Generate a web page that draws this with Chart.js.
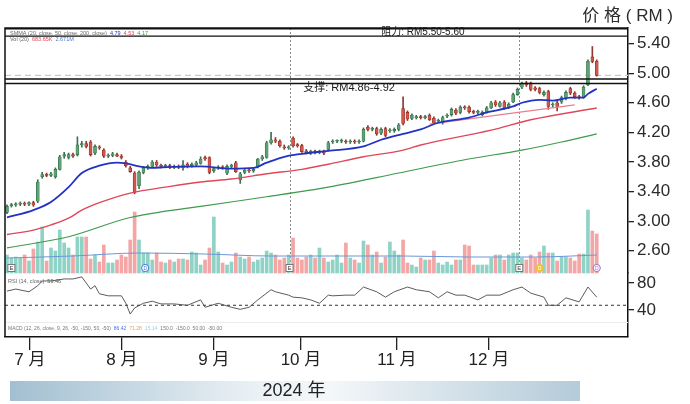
<!DOCTYPE html>
<html><head><meta charset="utf-8">
<script src="https://cdn.jsdelivr.net/npm/chart.js@4.4.1/dist/chart.umd.min.js"></script>
<style>html,body{margin:0;padding:0;background:#fff;}canvas{display:block;}</style>
</head><body>
<canvas id="c" width="690" height="404"></canvas>
<script>
// ---------- DATA ----------
const opens = [
3.12,3.21,3.22,3.23,3.24,3.23,3.25,3.27,3.60,3.63,
3.62,3.60,3.70,3.88,3.86,3.90,3.90,4.03,4.05,4.07,
3.92,4.00,3.96,3.88,3.89,3.90,3.88,3.80,3.72,3.65,
3.48,3.66,3.72,3.74,3.80,3.75,3.74,3.75,3.73,3.74,
3.72,3.77,3.75,3.76,3.78,3.86,3.86,3.68,3.72,3.73,
3.65,3.74,3.79,3.56,3.66,3.69,3.68,3.74,3.84,3.86,
4.06,4.10,4.08,4.00,3.99,4.12,4.03,4.02,3.95,3.93,
3.94,3.93,3.94,3.97,4.07,4.08,4.08,4.08,4.07,4.08,
4.07,4.08,4.27,4.24,4.25,4.19,4.25,4.22,4.22,4.24,
4.52,4.47,4.39,4.40,4.41,4.40,4.43,4.39,4.35,4.33,
4.42,4.44,4.50,4.47,4.54,4.54,4.48,4.47,4.44,4.47,
4.53,4.61,4.55,4.61,4.54,4.61,4.71,4.81,4.87,4.87,
4.80,4.79,4.71,4.75,4.57,4.60,4.61,4.66,4.79,4.73,
4.68,4.67,4.84,5.22,5.16];
const highs = [
3.22,3.24,3.25,3.26,3.26,3.26,3.27,3.56,3.66,3.65,
3.66,3.72,3.89,3.93,3.92,3.92,4.14,4.08,4.08,4.09,
4.03,4.02,3.98,3.91,3.93,3.92,3.90,3.82,3.74,3.67,
3.68,3.74,3.76,3.82,3.82,3.77,3.77,3.77,3.76,3.76,
3.82,3.79,3.79,3.81,3.87,3.88,3.87,3.73,3.75,3.75,
3.76,3.77,3.81,3.66,3.70,3.71,3.72,3.85,3.89,4.08,
4.20,4.13,4.10,4.03,4.02,4.14,4.05,4.04,3.97,3.96,
3.96,3.96,3.96,4.08,4.10,4.10,4.11,4.10,4.10,4.10,
4.10,4.26,4.29,4.27,4.27,4.26,4.27,4.25,4.26,4.32,
4.68,4.49,4.45,4.43,4.43,4.43,4.45,4.41,4.38,4.42,
4.45,4.53,4.52,4.56,4.56,4.56,4.50,4.50,4.49,4.55,
4.62,4.63,4.62,4.63,4.60,4.73,4.80,4.88,4.89,4.88,
4.82,4.81,4.76,4.77,4.60,4.62,4.69,4.76,4.81,4.75,
4.70,4.83,5.18,5.36,5.18];
const lows = [
3.10,3.19,3.20,3.21,3.21,3.21,3.20,3.25,3.58,3.60,
3.60,3.58,3.69,3.85,3.84,3.86,3.88,4.00,3.99,3.88,
3.90,3.97,3.86,3.86,3.87,3.87,3.84,3.73,3.66,3.37,
3.44,3.64,3.70,3.72,3.74,3.72,3.72,3.71,3.71,3.71,
3.69,3.72,3.73,3.74,3.77,3.82,3.64,3.66,3.70,3.70,
3.63,3.72,3.66,3.51,3.64,3.66,3.66,3.72,3.82,3.85,
4.04,4.06,4.00,3.97,3.97,4.00,4.00,3.93,3.91,3.90,
3.91,3.91,3.90,3.95,4.05,4.06,4.06,4.05,4.05,4.05,
4.05,4.07,4.22,4.22,4.16,4.17,4.14,4.20,4.20,4.22,
4.30,4.36,4.37,4.38,4.38,4.38,4.36,4.32,4.33,4.31,
4.40,4.42,4.44,4.45,4.51,4.46,4.45,4.45,4.42,4.46,
4.52,4.55,4.54,4.51,4.52,4.60,4.70,4.79,4.82,4.76,
4.76,4.72,4.69,4.51,4.54,4.49,4.59,4.64,4.71,4.66,
4.65,4.66,4.83,5.14,4.96];
const closes = [
3.20,3.22,3.23,3.24,3.23,3.25,3.22,3.53,3.63,3.62,
3.64,3.70,3.87,3.90,3.90,3.88,4.03,4.05,4.01,3.90,
4.01,3.99,3.88,3.89,3.91,3.88,3.86,3.75,3.67,3.39,
3.66,3.72,3.74,3.80,3.76,3.74,3.75,3.73,3.74,3.73,
3.76,3.74,3.77,3.79,3.84,3.84,3.66,3.71,3.73,3.72,
3.74,3.75,3.67,3.64,3.69,3.68,3.70,3.84,3.87,4.06,
4.10,4.08,4.02,3.99,4.00,4.02,4.02,3.94,3.93,3.94,
3.93,3.94,3.92,4.06,4.08,4.08,4.09,4.07,4.08,4.07,
4.08,4.24,4.24,4.25,4.18,4.24,4.16,4.23,4.24,4.30,
4.32,4.38,4.43,4.41,4.40,4.41,4.37,4.33,4.36,4.40,
4.43,4.51,4.46,4.54,4.53,4.48,4.47,4.48,4.47,4.53,
4.60,4.57,4.60,4.53,4.58,4.71,4.78,4.86,4.84,4.78,
4.78,4.74,4.74,4.55,4.58,4.55,4.67,4.74,4.73,4.68,
4.67,4.81,5.16,5.16,4.97];
// volume, million shares
const volumes = [
0.90,0.75,0.80,0.75,0.90,0.60,1.20,1.55,2.30,0.60,
1.25,1.10,2.15,1.50,1.25,0.90,1.80,1.80,1.80,0.70,
0.90,0.55,1.40,0.50,0.50,0.65,0.90,0.80,1.65,3.05,
1.65,1.00,1.00,0.65,1.00,0.55,0.50,0.65,0.55,0.70,
0.70,0.65,1.05,1.00,0.40,0.65,1.25,2.80,1.05,0.50,
0.40,0.55,1.00,0.80,0.70,0.80,0.55,0.65,0.75,1.10,
1.00,0.90,0.65,0.75,0.90,1.75,0.75,0.65,0.80,0.90,
0.75,1.25,0.75,0.55,0.65,0.90,0.50,1.50,0.75,0.65,
0.50,1.60,1.40,0.90,1.05,0.50,0.80,1.55,1.10,0.90,
1.65,0.50,0.40,0.30,0.75,0.65,0.65,1.10,0.50,0.40,
0.55,0.40,0.65,0.65,1.40,1.35,0.40,0.40,0.40,0.40,
0.75,0.90,0.90,0.65,0.90,1.00,1.00,0.75,0.65,0.90,
0.75,1.05,1.35,1.00,1.00,0.60,0.80,0.80,0.75,0.60,
0.95,0.95,3.15,2.10,1.95];
const volMA = [[0,0.75],[15,0.85],[30,1.00],[45,0.95],[60,0.85],[75,0.85],[90,0.85],[105,0.80],[120,0.80],[134,0.90]];
// moving averages [day index, price]
const ma20 = [[0,3.05],[6,3.15],[10,3.26],[14,3.46],[17,3.65],[21,3.75],[25,3.79],[27,3.78],[30,3.74],[33,3.72],[36,3.73],[44,3.74],[51,3.71],[56,3.72],[59,3.79],[63,3.87],[67,3.91],[73,3.95],[81,4.01],[85,4.10],[90,4.18],[94,4.24],[98,4.33],[105,4.40],[109,4.47],[115,4.55],[117,4.60],[121,4.64],[124,4.63],[128,4.67],[131,4.67],[132,4.72],[134,4.79]];
const ma50 = [[0,2.82],[6,2.88],[10,2.95],[14,3.04],[17,3.15],[21,3.25],[28,3.38],[36,3.46],[44,3.53],[51,3.57],[59,3.64],[67,3.70],[73,3.77],[81,3.87],[90,3.96],[94,4.03],[110,4.23],[119,4.37],[134,4.53]];
const ma200 = [[0,2.64],[14,2.79],[28,3.05],[44,3.20],[59,3.33],[73,3.46],[89,3.65],[104,3.83],[117,3.96],[126,4.07],[134,4.18]];
const trendLine = [[96,4.31],[129,4.57]];
// RSI (14)
const rsiIdx = [0,2,5,7,8,10,13,15,17,18,19,20,21,23,26,27,28,29,31,33,35,38,41,44,45,48,51,53,55,57,60,61,64,65,67,69,71,73,74,77,79,81,84,86,88,91,93,96,98,100,102,104,107,109,112,115,117,119,122,123,125,127,130,132,134];
const rsiVal = [68,71,67,76,83,83,86,86,89,80,71,76,64,61,61,50,34,43,50,53,49,49,47,55,44,50,44,41,44,55,70,67,62,59,58,55,50,62,61,62,62,74,67,59,67,74,70,67,58,67,62,62,55,62,62,70,74,65,59,47,47,58,52,74,59];
const rsiLevel = 47;
// zones
const resistance = [5.50, 5.60];
const support = [4.86, 4.92];
// axis ticks
const monthTickIdx = [5.2, 26.1, 47, 66.8, 88.6, 109.5];
const monthLabels = ['7 月','8 月','9 月','10 月','11 月','12 月'];
const priceTicks = [2.60,3.00,3.40,3.80,4.20,4.60,5.00,5.40];
const rsiTicks = [40, 80];
const separatorIdx = [64.2, 116.4];
const eventE = [1, 64.2, 116.4];
const eventD = [[31.4,'#4a74d8',false],[121,'#f1c232',true],[134,'#9b6fc9',false]];

// ---------- BUILD ----------
const X_MIN = -0.45, X_MAX = 141.1;
const FONT = "'Liberation Sans','Noto Sans CJK SC',sans-serif";
const idx = opens.map((_, i) => i);
const isUp = idx.map(i => closes[i] >= opens[i]);
const pairs = arr => arr.map(p => ({x: p[0], y: p[1]}));
const hline = v => [{x: X_MIN, y: v}, {x: X_MAX, y: v}];
const lastClose = closes[closes.length - 1];

const datasets = [
  {type:'line', yAxisID:'yP', data: hline(resistance[0]), borderColor:'#111', borderWidth:1.4, pointRadius:0, order:0},
  {type:'line', yAxisID:'yP', data: hline(resistance[1]), borderColor:'#111', borderWidth:1.4, pointRadius:0, order:0},
  {type:'line', yAxisID:'yP', data: hline(support[0]), borderColor:'#111', borderWidth:1.4, pointRadius:0, order:0},
  {type:'line', yAxisID:'yP', data: hline(support[1]), borderColor:'#111', borderWidth:1.4, pointRadius:0, order:0},
  {type:'line', yAxisID:'yP', data: hline(lastClose), borderColor:'#c9c9c9', borderWidth:1.3, borderDash:[6,4], pointRadius:0, order:7},
  {type:'line', yAxisID:'yP', data: pairs(ma20), borderColor:'#2233c4', borderWidth:1.8, pointRadius:0, cubicInterpolationMode:'monotone', order:1},
  {type:'line', yAxisID:'yP', data: pairs(ma50), borderColor:'#e0475a', borderWidth:1.4, pointRadius:0, cubicInterpolationMode:'monotone', order:1},
  {type:'line', yAxisID:'yP', data: pairs(ma200), borderColor:'#3e9a4c', borderWidth:1.1, pointRadius:0, cubicInterpolationMode:'monotone', order:1},
  {type:'line', yAxisID:'yP', data: pairs(trendLine), borderColor:'#e5808e', borderWidth:1.3, pointRadius:0, order:1},
  {type:'bar', yAxisID:'yP', data: idx.map(i => ({x:i, y:[opens[i], closes[i]]})), grouped:false, barThickness:3, minBarLength:1,
    backgroundColor: idx.map(i => isUp[i] ? '#5da274' : '#d4574a'),
    borderColor: idx.map(i => isUp[i] ? '#2f6b45' : '#8a2a20'), borderWidth:0.6, borderSkipped:false, order:2},
  {type:'bar', yAxisID:'yP', data: idx.map(i => ({x:i, y:[lows[i], highs[i]]})), grouped:false, barThickness:1,
    backgroundColor: idx.map(i => isUp[i] ? '#3f6f52' : '#8a3a30'), order:3},
  {type:'line', yAxisID:'yV', data: pairs(volMA), borderColor:'#6b97d6', borderWidth:1, pointRadius:0, cubicInterpolationMode:'monotone', order:8},
  {type:'bar', yAxisID:'yV', data: idx.map(i => ({x:i, y:volumes[i]})), grouped:false, barThickness:3,
    backgroundColor: idx.map(i => isUp[i] ? '#8fd3c6' : '#f3a6a5'), order:10},
  {type:'line', yAxisID:'yR', data: rsiIdx.map((v,k) => ({x:v, y:rsiVal[k]})), borderColor:'#4a4a4a', borderWidth:0.9, pointRadius:0, order:5},
  {type:'line', yAxisID:'yR', data: hline(rsiLevel), borderColor:'#333', borderWidth:1, borderDash:[3,3], pointRadius:0, order:6}
];

function drawSegments(ctx, x, y, segs, size) {
  ctx.font = size + "px 'Liberation Sans',sans-serif";
  segs.forEach(([t, c]) => { ctx.fillStyle = c; ctx.fillText(t, x, y); x += ctx.measureText(t).width + 3; });
}

const deco = {
  id: 'deco',
  beforeDatasetsDraw(chart) {
    const {ctx, chartArea: a, scales: {x, yP}} = chart;
    ctx.save();
    ctx.strokeStyle = '#8a8a8a'; ctx.lineWidth = 1; ctx.setLineDash([2, 2]);
    separatorIdx.forEach(v => {
      const px = Math.round(x.getPixelForValue(v)) + 0.5;
      ctx.beginPath(); ctx.moveTo(px, a.top); ctx.lineTo(px, yP.bottom - 8); ctx.stroke();
    });
    ctx.setLineDash([]);
    ctx.strokeStyle = '#ececec';
    ctx.beginPath(); ctx.moveTo(a.left, 322.5); ctx.lineTo(a.right, 322.5); ctx.stroke();
    ctx.restore();
  },
  afterDraw(chart) {
    const {ctx, chartArea: a, scales: {x, yP}} = chart;
    ctx.save();
    // frame
    ctx.strokeStyle = '#111'; ctx.lineWidth = 1.5;
    ctx.beginPath(); ctx.moveTo(a.left, a.bottom); ctx.lineTo(a.left, a.top); ctx.lineTo(a.right, a.top); ctx.stroke();
    // event markers
    const my = yP.bottom - 5;
    eventE.forEach(v => {
      const px = x.getPixelForValue(v);
      ctx.fillStyle = '#fff'; ctx.strokeStyle = '#777'; ctx.lineWidth = 1;
      ctx.fillRect(px - 3.5, my - 3.5, 7, 7); ctx.strokeRect(px - 3.5, my - 3.5, 7, 7);
      ctx.fillStyle = '#444'; ctx.font = "6px 'Liberation Sans'"; ctx.textAlign = 'center'; ctx.textBaseline = 'middle';
      ctx.fillText('E', px, my + 0.5);
    });
    eventD.forEach(([v, c, fill]) => {
      const px = x.getPixelForValue(v);
      ctx.beginPath(); ctx.arc(px, my, 3.6, 0, Math.PI * 2);
      ctx.fillStyle = fill ? c : '#fff'; ctx.fill();
      ctx.strokeStyle = c; ctx.lineWidth = 1; ctx.stroke();
      ctx.fillStyle = fill ? '#fff' : c; ctx.font = "5px 'Liberation Sans'"; ctx.textAlign = 'center'; ctx.textBaseline = 'middle';
      ctx.fillText('D', px, my + 0.4);
    });
    // zone labels
    ctx.fillStyle = '#1a1a1a'; ctx.textBaseline = 'middle';
    ctx.font = "10px 'Liberation Sans','Noto Sans CJK SC'"; ctx.textAlign = 'center';
    ctx.fillText('阻力: RM5.50-5.60', x.getPixelForValue(94.5), yP.getPixelForValue(5.552));
    ctx.font = "11px 'Liberation Sans','Noto Sans CJK SC'"; ctx.textAlign = 'left';
    ctx.fillText('支撑: RM4.86-4.92', x.getPixelForValue(67.3), yP.getPixelForValue(4.795));
    // tiny indicator captions
    ctx.textAlign = 'left'; ctx.textBaseline = 'middle';
    drawSegments(ctx, 10, 33.5, [['SMMA (20, close, 50, close, 200, close)', '#666'], ['4.79', '#2233c4'], ['4.53', '#e0475a'], ['4.17', '#3e9a4c']], 5.5);
    drawSegments(ctx, 10, 39.5, [['Vol (20)', '#666'], ['683.65K', '#e0475a'], ['2.671M', '#4a74d8']], 5.5);
    drawSegments(ctx, 8, 281.5, [['RSI (14, close)', '#666'], ['59.46', '#555']], 5.5);
    drawSegments(ctx, 8, 328.5, [['MACD (12, 26, close, 9, 26, -50, -150, 50, -50)', '#777'], ['86.42', '#4a74d8'], ['71.28', '#f0a040'], ['15.14', '#9cd0e6'], ['150.0  -150.0  50.00  -50.00', '#777']], 5);
    // top-right unit title
    ctx.fillStyle = '#2b2b2b'; ctx.font = "17px " + FONT; ctx.textAlign = 'right'; ctx.textBaseline = 'alphabetic';
    ctx.fillText('价 格 ( RM )', 673, 21);
    // year banner
    const g = ctx.createLinearGradient(10, 0, 580, 0);
    g.addColorStop(0, '#a2bfd1'); g.addColorStop(0.42, '#e9f0f4'); g.addColorStop(0.56, '#f4f7f9'); g.addColorStop(1, '#b4cbd9');
    ctx.fillStyle = g; ctx.fillRect(10, 381, 570, 20);
    ctx.fillStyle = '#222'; ctx.font = "18px " + FONT; ctx.textAlign = 'center'; ctx.textBaseline = 'middle';
    ctx.fillText('2024 年', 294, 391.5);
    ctx.restore();
  }
};

new Chart(document.getElementById('c'), {
  type: 'bar',
  data: { datasets },
  options: {
    responsive: false, animation: false, events: [],
    layout: { padding: { left: 5, top: 28, right: 0, bottom: 0 } },
    plugins: { legend: { display: false }, tooltip: { enabled: false } },
    scales: {
      x: {
        type: 'linear', min: X_MIN, max: X_MAX, offset: false,
        grid: { display: true, drawOnChartArea: false, drawTicks: true, tickLength: 13, color: '#222', lineWidth: 1.3, offset: false },
        border: { display: true, color: '#111', width: 1.5 },
        ticks: { autoSkip: false, maxRotation: 0, padding: 0, color: '#222', font: { family: FONT, size: 17 },
                 callback: (v, i) => monthLabels[i] },
        afterBuildTicks: s => { s.ticks = monthTickIdx.map(v => ({ value: v })); },
        afterFit: s => { s.height = 67; }
      },
      yP: {
        position: 'right', stack: 'v', stackWeight: 245, min: 2.30, max: 5.61,
        grid: { drawOnChartArea: false, tickLength: 6, color: '#222', lineWidth: 1.3 },
        border: { color: '#111', width: 1.5 },
        ticks: { autoSkip: false, padding: 3, color: '#2b2b2b', font: { family: FONT, size: 17 }, callback: v => Number(v).toFixed(2) },
        afterBuildTicks: s => { s.ticks = priceTicks.map(v => ({ value: v })); },
        afterFit: s => { s.width = 62; }
      },
      yR: {
        position: 'right', stack: 'v', stackWeight: 64, min: 0, max: 94.8,
        grid: { drawOnChartArea: false, tickLength: 6, color: '#222', lineWidth: 1.3 },
        border: { color: '#111', width: 1.5 },
        ticks: { autoSkip: false, padding: 3, color: '#2b2b2b', font: { family: FONT, size: 17 }, callback: v => String(v) },
        afterBuildTicks: s => { s.ticks = rsiTicks.map(v => ({ value: v })); },
        afterFit: s => { s.width = 62; }
      },
      yV: { display: false, min: -3.2, max: 12.25 }
    }
  },
  plugins: [deco]
});
</script>
</body></html>
